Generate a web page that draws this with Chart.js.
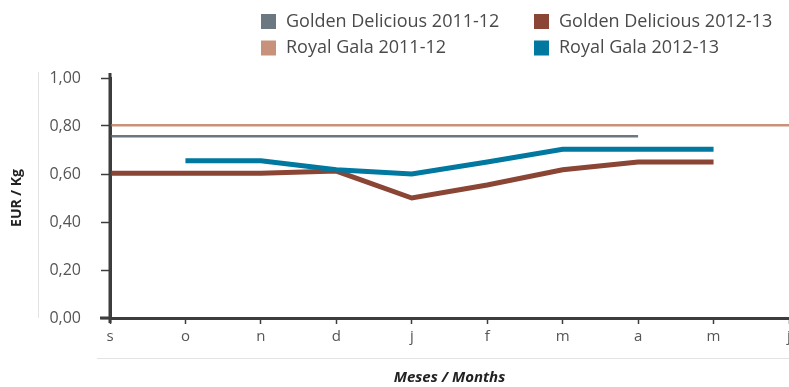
<!DOCTYPE html>
<html>
<head>
<meta charset="utf-8">
<script src="https://cdn.jsdelivr.net/npm/chart.js@4"></script>
<style>
  html, body { margin: 0; padding: 0; background: #fff; }
  #wrap { width: 789px; height: 387px; position: relative; }
</style>
</head>
<body>
<div id="wrap"><canvas id="chart" width="789" height="387"></canvas></div>
<script>
// months, Sept -> June
var months = ['s', 'o', 'n', 'd', 'j', 'f', 'm', 'a', 'm', 'j'];
var yTicks = [0, 0.2, 0.4, 0.6, 0.8, 1.0];

var golden1112 = [0.757, 0.757, 0.757, 0.757, 0.757, 0.757, 0.757, 0.757, null, null];
var golden1213 = [0.603, 0.603, 0.603, 0.612, 0.50, 0.554, 0.618, 0.65, 0.65, null];
var gala1112 = [0.803, 0.803, 0.803, 0.803, 0.803, 0.803, 0.803, 0.803, 0.803, 0.803];
var gala1213 = [null, 0.655, 0.655, 0.618, 0.60, 0.65, 0.703, 0.703, 0.703, null];

var FONT = "'Open Sans', 'Noto Sans', sans-serif";

// legend drawn by hand, 2x2 like the original
var legendPlugin = {
    id: 'gridLegend',
    afterDraw: function (chart) {
        var ctx = chart.ctx;
        var cols = [261, 534];
        var rows = [21.5, 48];
        ctx.save();
        ctx.font = '18px ' + FONT;
        ctx.textBaseline = 'middle';
        ctx.textAlign = 'left';
        chart.data.datasets.forEach(function (ds, i) {
            var x = cols[i % 2], y = rows[Math.floor(i / 2)];
            ctx.fillStyle = ds.borderColor;
            ctx.fillRect(x, y - 7.5, 15, 15);
            ctx.fillStyle = '#4a4a4a';
            ctx.fillText(ds.label, x + 25, y);
        });
        ctx.restore();
    }
};

// thin guide lines and axis stubs
var decoPlugin = {
    id: 'deco',
    beforeDraw: function (chart) {
        var ctx = chart.ctx, a = chart.chartArea;
        ctx.save();
        ctx.strokeStyle = '#e3e3e3';
        ctx.lineWidth = 1;
        ctx.beginPath();
        ctx.moveTo(38.5, a.top - 6);
        ctx.lineTo(38.5, a.bottom);
        ctx.moveTo(97, 358.5);
        ctx.lineTo(789, 358.5);
        ctx.stroke();
        ctx.restore();
    },
    afterDraw: function (chart) {
        var ctx = chart.ctx, a = chart.chartArea;
        ctx.save();
        ctx.strokeStyle = '#3d3d3d';
        ctx.lineWidth = 3;
        ctx.beginPath();
        ctx.moveTo(a.left, a.top - 5);
        ctx.lineTo(a.left, a.bottom + 5);
        ctx.moveTo(a.left - 10, a.bottom);
        ctx.lineTo(a.left, a.bottom);
        ctx.stroke();
        ctx.restore();
    }
};

var ctx = document.getElementById('chart').getContext('2d');
var chart = new Chart(ctx, {
    type: 'line',
    data: {
        labels: months,
        datasets: [
            { label: 'Golden Delicious 2011-12', data: golden1112, borderColor: '#6b7882', borderWidth: 2.5, order: 2 },
            { label: 'Golden Delicious 2012-13', data: golden1213, borderColor: '#8b4534', borderWidth: 5, order: 1 },
            { label: 'Royal Gala 2011-12', data: gala1112, borderColor: '#c8917b', borderWidth: 2.5, order: 3 },
            { label: 'Royal Gala 2012-13', data: gala1213, borderColor: '#0078a0', borderWidth: 5, order: 0 }
        ]
    },
    options: {
        responsive: false,
        animation: false,
        devicePixelRatio: 1,
        layout: { padding: { top: 78, right: 0, bottom: 0, left: 0 } },
        elements: {
            point: { radius: 0, hoverRadius: 0 },
            line: { tension: 0, fill: false, borderCapStyle: 'butt', borderJoinStyle: 'miter' }
        },
        plugins: {
            legend: { display: false },
            tooltip: { enabled: false }
        },
        scales: {
            x: {
                offset: false,
                grid: { drawOnChartArea: false, drawTicks: true, tickLength: 6, tickColor: '#3d3d3d', tickWidth: 1.5 },
                border: { color: '#3d3d3d', width: 3 },
                ticks: { color: '#555', font: { family: FONT, size: 15 }, padding: 4, maxRotation: 0, autoSkip: false },
                title: {
                    display: true,
                    text: 'Meses / Months',
                    color: '#222',
                    font: { family: FONT, size: 15, weight: 'bold', style: 'italic' },
                    padding: { top: 0, bottom: 0 }
                },
                afterFit: function (scale) {
                    scale.height = 69;
                    scale.paddingLeft = 0;
                    scale.paddingRight = 0;
                }
            },
            y: {
                min: 0,
                max: 1,
                afterBuildTicks: function (scale) {
                    scale.ticks = yTicks.map(function (v) { return { value: v }; });
                },
                grid: { drawOnChartArea: false, drawTicks: true, tickLength: 9, tickColor: '#3d3d3d', tickWidth: 1.5 },
                border: { color: '#3d3d3d', width: 3 },
                ticks: {
                    color: '#555',
                    font: { family: FONT, size: 16 },
                    padding: 20,
                    callback: function (v) { return v.toFixed(2).replace('.', ','); }
                },
                title: {
                    display: true,
                    text: 'EUR / Kg',
                    color: '#222',
                    font: { family: FONT, size: 14, weight: 'bold' },
                    padding: { top: 9, bottom: 0 }
                },
                afterFit: function (scale) {
                    scale.width = 110;
                }
            }
        }
    },
    plugins: [decoPlugin, legendPlugin]
});
</script>
</body>
</html>
